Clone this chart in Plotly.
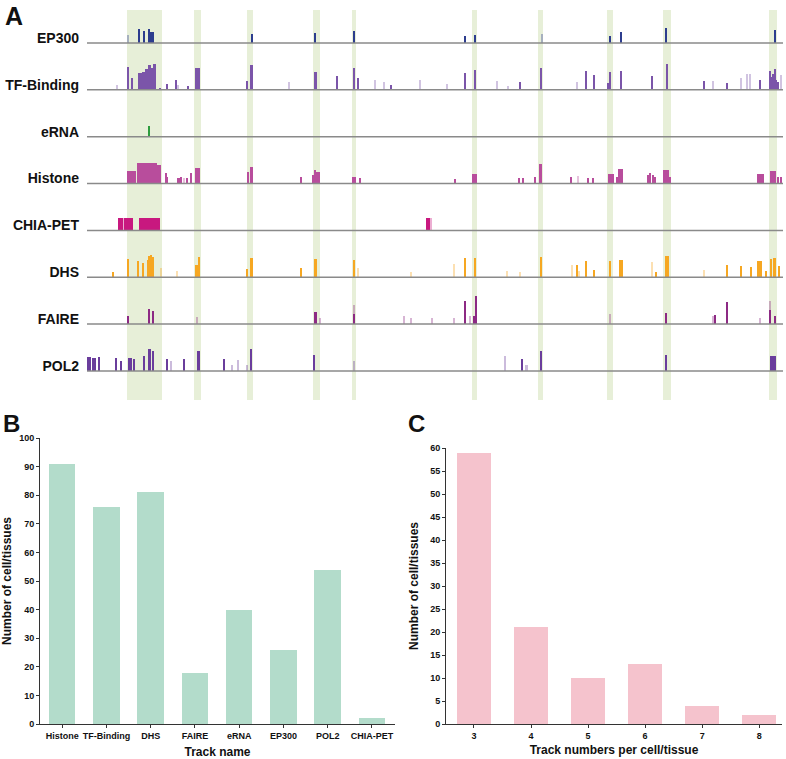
import plotly.graph_objects as go

# ---------------- DATA ----------------
# Panel A: genome-browser view, region coordinate 0..696 (kb)
region_start, region_end = 0, 696
track_names = ["EP300", "TF-Binding", "eRNA", "Histone", "CHIA-PET", "DHS", "FAIRE", "POL2"]

# highlighted (enhancer) regions: (start, end)
highlight_regions = [(40, 75), (107, 114), (160, 166), (226, 233), (265, 269),
                     (385, 390), (451, 456), (520, 526), (576, 584), (682, 690)]

# peaks per track: (start, end, signal, weak)
ep300_peaks = [(41, 41, 8, 1), (52, 52, 14, 0), (57, 57, 12, 0), (62, 62, 14, 0),
               (62, 67, 11, 0), (165, 165, 9, 0), (228, 228, 10, 0), (267, 267, 12, 0),
               (378, 378, 7, 0), (388, 388, 8, 0), (455, 455, 9, 1), (523, 523, 7, 0),
               (534, 534, 11, 0), (579, 579, 15, 0), (688, 688, 13, 0)]
tf_peaks = [(30, 30, 5, 1), (40, 42, 23, 0), (45, 45, 12, 0), (51, 55, 17, 0), (55, 58, 18, 0),
            (58, 61, 21, 0), (61, 64, 25, 0), (64, 66, 22, 0), (66, 69, 26, 0), (73, 73, 2, 0),
            (80, 80, 6, 0), (89, 89, 10, 0), (91, 91, 5, 1), (101, 101, 4, 0), (108, 113, 22, 0),
            (160, 160, 9, 0), (163, 166, 25, 0), (202, 202, 8, 1), (227, 230, 18, 0),
            (250, 250, 14, 0), (267, 267, 22, 0), (271, 271, 12, 0), (288, 288, 10, 1),
            (297, 297, 8, 1), (304, 304, 5, 0), (333, 333, 10, 1), (360, 360, 6, 1),
            (378, 378, 17, 0), (387, 389, 20, 0), (410, 410, 9, 1), (421, 421, 4, 1),
            (433, 433, 8, 0), (453, 455, 22, 0), (490, 490, 8, 1), (499, 499, 19, 0),
            (507, 507, 15, 0), (520, 522, 7, 0), (523, 524, 18, 0), (534, 534, 19, 0),
            (565, 565, 14, 0), (580, 580, 26, 0), (617, 617, 9, 0), (626, 626, 9, 1),
            (640, 640, 7, 0), (654, 654, 12, 1), (660, 660, 16, 1), (663, 663, 16, 1),
            (673, 673, 10, 0), (683, 683, 19, 0), (684, 686, 13, 0), (686, 687, 16, 0),
            (688, 688, 21, 0), (689, 689, 10, 0), (691, 691, 8, 0), (694, 694, 15, 1)]
erna_peaks = [(62, 62, 11, 0)]
histone_peaks = [(40, 49, 13, 0), (50, 70, 21, 0), (70, 74, 19, 0), (79, 79, 11, 0),
                 (80.5, 80.5, 7, 0), (90, 93, 6, 0), (94, 94, 7, 0), (97, 97, 6, 1),
                 (100, 100, 6, 0), (104, 104, 11, 0), (108, 113, 16, 0), (160, 162, 12, 0),
                 (163, 166, 17, 0), (214, 214, 7, 0), (226, 226, 9, 0), (228, 228, 14, 0),
                 (229, 233, 12, 0), (265, 269, 7, 0), (273, 273, 6, 0), (368, 368, 5, 0),
                 (385, 390, 10, 0), (431, 433, 6, 0), (436, 436, 6, 0), (448, 448, 7, 0),
                 (452, 455, 20, 0), (484, 484, 7, 0), (490, 492, 8, 1), (501, 501, 6, 0),
                 (506, 506, 6, 0), (521, 527, 10, 0), (529, 531, 7, 0), (531, 536, 15, 0),
                 (560, 562, 9, 0), (562, 564, 11, 0), (565, 567, 9, 0), (567, 569, 7, 0),
                 (576, 582, 14, 0), (582, 584, 7, 0), (670, 677, 10, 0), (683, 689, 13, 0),
                 (691, 691, 7, 0), (694, 694, 7, 0)]
chiapet_peaks = [(31, 36, 12, 0), (36, 37, 12, 1), (37, 46, 12, 0), (52, 73, 12, 0),
                 (339, 343, 12, 0), (343, 345, 12, 1)]
dhs_peaks = [(26, 26, 5, 0), (40, 42, 18, 0), (51, 51, 16, 0), (56, 56, 14, 0), (61, 61, 17, 0),
             (62, 63, 21, 0), (63, 64, 20, 0), (64, 65, 22, 0), (65, 67, 20, 0), (74, 74, 9, 1),
             (90, 90, 6, 1), (108, 111, 12, 0), (111, 113, 20, 0), (160, 160, 8, 0),
             (163, 166, 19, 0), (214, 214, 9, 0), (227, 230, 18, 0), (267, 267, 17, 0),
             (271, 271, 9, 1), (324, 324, 5, 1), (367, 367, 13, 1), (378, 378, 19, 0),
             (388, 389, 19, 0), (420, 420, 6, 1), (433, 433, 5, 1), (453, 455, 20, 0),
             (485, 485, 12, 1), (490, 490, 12, 0), (492, 492, 6, 1), (499, 499, 16, 0),
             (506, 508, 7, 0), (523, 524, 16, 0), (532, 536, 17, 0), (565, 565, 15, 1),
             (569, 569, 5, 0), (578, 582, 21, 0), (617, 617, 7, 1), (640, 640, 12, 0),
             (654, 654, 11, 0), (664, 664, 10, 0), (670, 675, 16, 0), (679, 679, 6, 0),
             (683, 685, 18, 0), (686, 689, 19, 0), (692, 692, 11, 0)]
faire_peaks = [(41, 41, 8, 0), (61, 63, 15, 0), (65, 67, 13, 0), (110, 110, 7, 1),
               (227, 230, 12, 0), (233, 233, 6, 1), (267, 267, 19, 1), (267, 267, 10, 0),
               (317, 317, 8, 1), (324, 324, 6, 1), (345, 345, 6, 1), (367, 367, 6, 1),
               (378, 378, 23, 0), (383, 383, 8, 1), (387, 387, 8, 0), (389, 389, 28, 0),
               (523, 523, 10, 1), (578, 580, 11, 0), (626, 626, 8, 1), (628, 628, 9, 0),
               (640, 640, 22, 0), (673, 673, 6, 1), (683, 683, 23, 1), (683, 683, 14, 0),
               (688, 688, 8, 0)]
pol2_peaks = [(0, 4, 14, 0), (5, 9, 13, 0), (12, 12, 14, 0), (29, 29, 13, 0), (34, 34, 10, 0),
              (41, 45, 13, 0), (47, 47, 12, 0), (57, 57, 15, 0), (61, 64, 22, 0), (65, 67, 20, 0),
              (80, 80, 12, 0), (84, 84, 10, 1), (97, 97, 12, 0), (110, 113, 20, 0),
              (137, 137, 12, 0), (145, 145, 6, 1), (151, 151, 11, 1), (160, 160, 6, 1),
              (163, 165, 22, 0), (227, 227, 16, 0), (267, 267, 10, 1), (418, 418, 15, 1),
              (435, 435, 12, 0), (438, 441, 6, 1), (453, 455, 20, 0), (579, 579, 16, 0),
              (683, 689, 15, 0)]
track_peaks = [ep300_peaks, tf_peaks, erna_peaks, histone_peaks,
               chiapet_peaks, dhs_peaks, faire_peaks, pol2_peaks]

# Panel B
b_tracks = ["Histone", "TF-Binding", "DHS", "FAIRE", "eRNA", "EP300", "POL2", "CHIA-PET"]
b_counts = [91, 76, 81, 18, 40, 26, 54, 2]

# Panel C
c_track_numbers = [3, 4, 5, 6, 7, 8]
c_counts = [59, 21, 10, 13, 4, 2]

# ---------------- STYLE ----------------
W, H = 786, 759
FONT = "Liberation Sans, Arial, sans-serif"
track_colors = ["#2d3d8e", "#7b55a9", "#2e9c3e", "#b84d9c",
                "#c8187f", "#f6a722", "#8d2a84", "#6a3d9c"]
HL_COLOR = "#e7efd8"
SIGNAL_PER_TRACK = 46.9      # signal units per track spacing
Y_TOP, Y_BOTTOM = 0.704, -7.62


def px_x(p):
    return p / W


def px_y(p):
    return 1 - p / H


fig = go.Figure()

# highlight bands
fig.add_trace(go.Bar(
    x=[(a + b) / 2 for a, b in highlight_regions],
    width=[b - a for a, b in highlight_regions],
    y=[Y_TOP - Y_BOTTOM] * len(highlight_regions),
    base=[Y_BOTTOM] * len(highlight_regions),
    marker=dict(color=HL_COLOR, line_width=0),
    xaxis="x", yaxis="y", hoverinfo="skip", showlegend=False))

# peaks
for i, (peaks, color) in enumerate(zip(track_peaks, track_colors)):
    fig.add_trace(go.Bar(
        x=[(s + e) / 2 for s, e, h, w in peaks],
        width=[max(e - s, 1.3) for s, e, h, w in peaks],
        y=[h / SIGNAL_PER_TRACK for s, e, h, w in peaks],
        base=[-i] * len(peaks),
        marker=dict(color=color, opacity=[0.35 if w else 1.0 for s, e, h, w in peaks],
                    line_width=0),
        xaxis="x", yaxis="y", showlegend=False, name=track_names[i]))

# baselines
bx, by = [], []
for i in range(len(track_names)):
    bx += [region_start, region_end, None]
    by += [-i, -i, None]
fig.add_trace(go.Scatter(x=bx, y=by, mode="lines", line=dict(color="#8a8a8a", width=1.5),
                         xaxis="x", yaxis="y", hoverinfo="skip", showlegend=False))

# Panel B
fig.add_trace(go.Bar(x=b_tracks, y=b_counts, width=0.6, marker=dict(color="#b3dccb", line_width=0),
                     xaxis="x2", yaxis="y2", showlegend=False))
# Panel C
fig.add_trace(go.Bar(x=c_track_numbers, y=c_counts, width=0.6, marker=dict(color="#f5c3cd", line_width=0),
                     xaxis="x3", yaxis="y3", showlegend=False))

axis_common = dict(showline=True, linecolor="#333333", linewidth=1, showgrid=False, zeroline=False,
                   ticks="outside", ticklen=3, tickcolor="#333333", automargin=False,
                   tickfont=dict(family=FONT, size=9, color="#111111", weight="bold"))

fig.update_layout(
    width=W, height=H, margin=dict(l=0, r=0, t=0, b=0),
    paper_bgcolor="white", plot_bgcolor="rgba(0,0,0,0)",
    barmode="overlay", bargap=0,
    font=dict(family=FONT, color="#111111"),
    xaxis=dict(domain=[px_x(87), px_x(783)], range=[region_start, region_end], visible=False,
               anchor="y"),
    yaxis=dict(domain=[px_y(400), px_y(10)], range=[Y_BOTTOM, Y_TOP], anchor="x",
               showgrid=False, zeroline=False, showline=False, ticks="",
               tickvals=[-i + 0.107 for i in range(len(track_names))], ticktext=track_names,
               ticklabelstandoff=7, automargin=False,
               tickfont=dict(family=FONT, size=14, color="#111111", weight="bold")),
    xaxis2=dict(axis_common, domain=[px_x(40), px_x(395)], range=[-0.5, 7.52], anchor="y2",
                type="category",
                title=dict(text="Track name", standoff=7,
                           font=dict(family=FONT, size=12, color="#111111", weight="bold"))),
    yaxis2=dict(axis_common, domain=[px_y(724), px_y(438)], range=[0, 100], anchor="x2",
                dtick=10,
                title=dict(text="Number of cell/tissues", standoff=6,
                           font=dict(family=FONT, size=12, color="#111111", weight="bold"))),
    xaxis3=dict(axis_common, domain=[px_x(446), px_x(782)], range=[2.51, 8.4], anchor="y3",
                tickvals=c_track_numbers,
                title=dict(text="Track numbers per cell/tissue", standoff=5,
                           font=dict(family=FONT, size=12, color="#111111", weight="bold"))),
    yaxis3=dict(axis_common, domain=[px_y(724), px_y(448)], range=[0, 60], anchor="x3",
                dtick=5,
                title=dict(text="Number of cell/tissues", standoff=8,
                           font=dict(family=FONT, size=12, color="#111111", weight="bold"))),
    annotations=[
        dict(text="A", x=px_x(4), y=px_y(16), xref="paper", yref="paper", xanchor="left",
             yanchor="middle", showarrow=False, borderpad=0,
             font=dict(family=FONT, size=25, weight="bold")),
        dict(text="B", x=px_x(2), y=px_y(423), xref="paper", yref="paper", xanchor="left",
             yanchor="middle", showarrow=False, borderpad=0,
             font=dict(family=FONT, size=24, weight="bold")),
        dict(text="C", x=px_x(407), y=px_y(423), xref="paper", yref="paper", xanchor="left",
             yanchor="middle", showarrow=False, borderpad=0,
             font=dict(family=FONT, size=24, weight="bold")),
    ],
)

fig.write_html("out.html", config={"displayModeBar": False},
               post_script="document.body.style.margin='0';document.body.style.overflow='hidden';")
